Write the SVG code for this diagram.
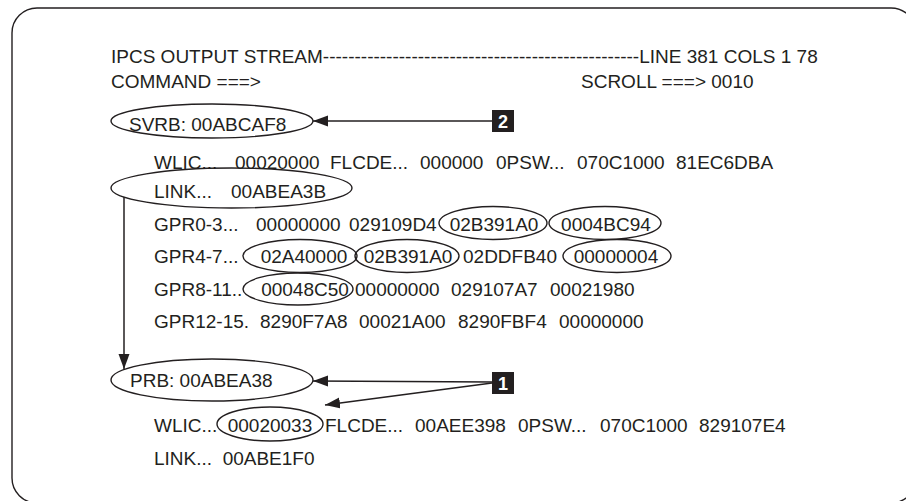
<svg xmlns="http://www.w3.org/2000/svg" width="906" height="501" viewBox="0 0 906 501">
<defs>
<style>
.t{font-family:"Liberation Sans",Arial,Helvetica,sans-serif;font-size:19px;fill:#231f20;white-space:pre}
.m{text-anchor:middle}
.e{fill:none;stroke:#231f20;stroke-width:1.4}
.c{fill:none;stroke:#231f20;stroke-width:1.5}
.box{fill:#231f20}
.n{font-family:"Liberation Sans",Arial,Helvetica,sans-serif;font-size:18px;font-weight:bold;fill:#ffffff;text-anchor:middle}
</style>
<marker id="ah" markerUnits="userSpaceOnUse" markerWidth="16" markerHeight="12" refX="15" refY="5.5" orient="auto">
<path d="M0,0 L15,5.5 L0,11 z" fill="#231f20"/>
</marker>
</defs>
<rect x="12" y="8" width="904" height="495" rx="25" ry="25" fill="#ffffff" stroke="#231f20" stroke-width="1.4"/>
<g id="header">
<text class="t" x="111" y="63">IPCS OUTPUT STREAM--------------------------------------------------LINE 381 COLS 1 78</text>
<text class="t" x="111" y="88">COMMAND ===&gt;</text>
<text class="t" x="581" y="88">SCROLL ===&gt; 0010</text>
</g>
<g id="svrb">
<ellipse class="e" cx="212" cy="121" rx="101" ry="17"/>
<text class="t" x="129" y="131">SVRB: 00ABCAF8</text>
</g>
<g id="row-wlic1">
<text class="t" y="169"><tspan x="154">WLIC...</tspan><tspan x="235">00020000</tspan><tspan x="330">FLCDE...</tspan><tspan x="420">000000</tspan><tspan x="496">0PSW...</tspan><tspan x="577">070C1000</tspan><tspan x="676">81EC6DBA</tspan></text>
</g>
<g id="link">
<ellipse class="e" cx="231.5" cy="188" rx="120.5" ry="20"/>
<text class="t" y="198"><tspan x="154">LINK...</tspan><tspan x="231">00ABEA3B</tspan></text>
</g>
<g id="row-gpr0">
<text class="t" y="231"><tspan x="154">GPR0-3...</tspan><tspan x="256">00000000</tspan><tspan x="349">029109D4</tspan></text>
<ellipse class="e" cx="493" cy="223" rx="54" ry="16.5"/>
<text class="t m" x="494" y="231">02B391A0</text>
<ellipse class="e" cx="605" cy="223" rx="56" ry="16.5"/>
<text class="t m" x="606" y="231">0004BC94</text>
</g>
<g id="row-gpr4">
<text class="t" x="154" y="263">GPR4-7...</text>
<ellipse class="e" cx="300" cy="256" rx="57" ry="16.5"/>
<text class="t m" x="304" y="263">02A40000</text>
<ellipse class="e" cx="407" cy="256" rx="52" ry="16.5"/>
<text class="t m" x="408" y="263">02B391A0</text>
<text class="t" x="463" y="263">02DDFB40</text>
<ellipse class="e" cx="617" cy="256" rx="54" ry="16.5"/>
<text class="t m" x="616" y="263">00000004</text>
</g>
<g id="row-gpr8">
<text class="t" x="154" y="296">GPR8-11..</text>
<ellipse class="e" cx="298" cy="289" rx="55" ry="16"/>
<text class="t m" x="305" y="296">00048C50</text>
<text class="t" y="296"><tspan x="355">00000000</tspan><tspan x="451">029107A7</tspan><tspan x="550">00021980</tspan></text>
</g>
<g id="row-gpr12">
<text class="t" y="328"><tspan x="154">GPR12-15.</tspan><tspan x="260">8290F7A8</tspan><tspan x="359">00021A00</tspan><tspan x="458">8290FBF4</tspan><tspan x="559">00000000</tspan></text>
</g>
<g id="prb">
<ellipse class="e" cx="212" cy="380" rx="101" ry="21"/>
<text class="t" x="130" y="387">PRB: 00ABEA38</text>
</g>
<g id="row-wlic2">
<text class="t" x="154" y="432">WLIC...</text>
<ellipse class="e" cx="270" cy="424" rx="53" ry="17"/>
<text class="t m" x="270" y="432">00020033</text>
<text class="t" y="432"><tspan x="325">FLCDE...</tspan><tspan x="415">00AEE398</tspan><tspan x="518">0PSW...</tspan><tspan x="600">070C1000</tspan><tspan x="699">829107E4</tspan></text>
</g>
<g id="row-link2">
<text class="t" x="154" y="465">LINK...  00ABE1F0</text>
</g>
<g id="callout-2">
<rect class="box" x="492" y="110" width="22" height="22"/>
<text class="n" x="503" y="128">2</text>
</g>
<g id="callout-1">
<rect class="box" x="492" y="372" width="22" height="22"/>
<text class="n" x="503" y="390">1</text>
</g>
<g id="connectors">
<line class="c" x1="492" y1="121" x2="313" y2="121" marker-end="url(#ah)"/>
<line class="c" x1="124" y1="197" x2="124" y2="369" marker-end="url(#ah)"/>
<line class="c" x1="492" y1="382" x2="313" y2="381" marker-end="url(#ah)"/>
<line class="c" x1="492" y1="383" x2="325" y2="405" marker-end="url(#ah)"/>
</g>
</svg>
